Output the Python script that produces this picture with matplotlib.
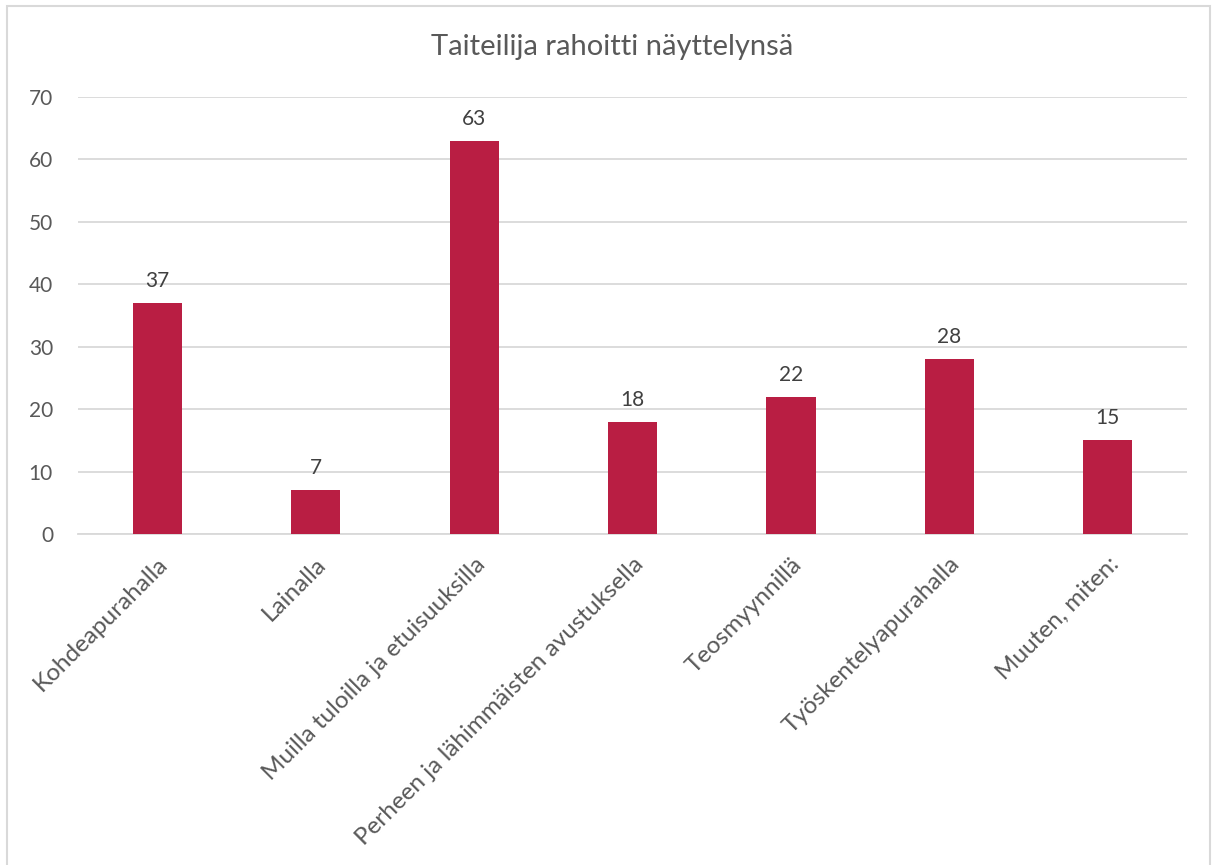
import matplotlib.pyplot as plt
from matplotlib.patches import Rectangle

categories = [
    "Kohdeapurahalla",
    "Lainalla",
    "Muilla tuloilla ja etuisuuksilla",
    "Perheen ja lähimmäisten avustuksella",
    "Teosmyynnillä",
    "Työskentelyapurahalla",
    "Muuten, miten:",
]
values = [37, 7, 63, 18, 22, 28, 15]
yticks = [0, 10, 20, 30, 40, 50, 60, 70]

plt.rcParams["font.family"] = ["Lato", "DejaVu Sans"]
text_color = "#595959"
bar_color = "#B91E43"
grid_color = "#D9D9D9"

fig = plt.figure(figsize=(12.15, 8.65), dpi=100)
ax = fig.add_axes([0.0642, 0.3827, 0.9128, 0.5052])

x = range(len(categories))
bars = ax.bar(x, values, width=0.31, color=bar_color, zorder=3)
for b, v in zip(bars, values):
    ax.text(b.get_x() + b.get_width() / 2, v + 1.9, str(v), ha="center", va="bottom",
            fontsize=15, color="#404040")

ax.set_xlim(-0.5, len(categories) - 0.5)
ax.set_ylim(0, 70)
ax.set_yticks(yticks)
ax.set_yticklabels([str(t) for t in yticks], fontsize=15, color=text_color)
ax.set_xticks(list(x))
ax.set_xticklabels(categories, rotation=45, ha="right", rotation_mode="anchor",
                   fontsize=17.5, color=text_color)
ax.tick_params(axis="both", length=0)
ax.tick_params(axis="y", pad=18)
ax.tick_params(axis="x", pad=14)
ax.grid(axis="y", color=grid_color, linewidth=1.3, zorder=0)
for s in ["top", "right", "left"]:
    ax.spines[s].set_visible(False)
ax.spines["bottom"].set_color(grid_color)
ax.spines["bottom"].set_linewidth(1.3)

fig.text(0.504, 0.946, "Taiteilija rahoitti näyttelynsä", ha="center", va="center",
         fontsize=21, color=text_color)

fig.patches.append(Rectangle((0.006, -0.01), 0.99, 1.003, transform=fig.transFigure,
                             fill=False, edgecolor=grid_color, linewidth=1.5))

fig.savefig("out.png", dpi=100)
